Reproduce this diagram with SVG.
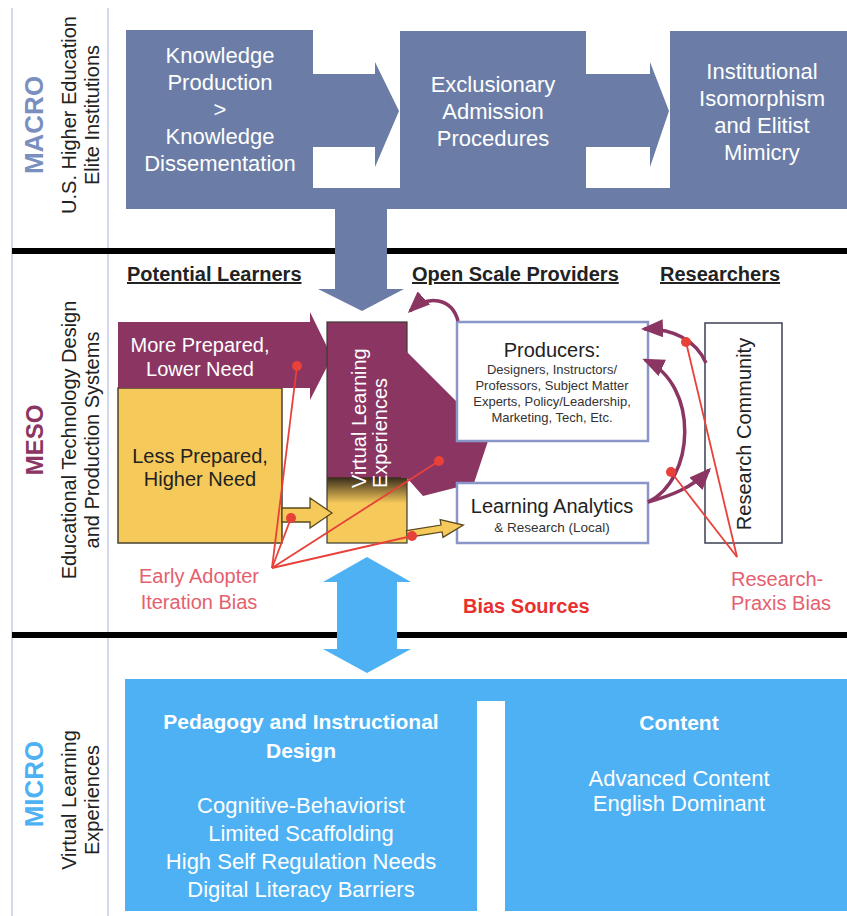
<svg xmlns="http://www.w3.org/2000/svg" width="847" height="916" viewBox="0 0 847 916">
<defs>
  <linearGradient id="vleGrad" x1="0" y1="0" x2="0" y2="1">
    <stop offset="0" stop-color="#8b3563"/>
    <stop offset="0.70" stop-color="#8b3563"/>
    <stop offset="0.705" stop-color="#3a2e1c"/>
    <stop offset="0.82" stop-color="#f6c95b"/>
    <stop offset="1" stop-color="#f6c95b"/>
  </linearGradient>
  <marker id="pArrow" markerUnits="userSpaceOnUse" markerWidth="22" markerHeight="18" viewBox="0 0 22 18" refX="19" refY="9" orient="auto">
    <path d="M0,0 L22,9 L0,18 z" fill="#8b3563"/>
  </marker>
</defs>
<style>
  text { font-family: "Liberation Sans", Arial, Helvetica, sans-serif; }
  .w { fill: #ffffff; }
  .k { fill: #222222; }
  .mac { font-size: 22px; fill: #ffffff; text-anchor: middle; }
  .lvl { font-size: 26px; font-weight: bold; text-anchor: middle; }
  .sub { font-size: 20px; fill: #222222; text-anchor: middle; }
  .hdr { font-size: 20px; font-weight: bold; fill: #222222; text-decoration: underline; }
  .mid { text-anchor: middle; }
  .bias { font-size: 20px; fill: #e5606e; }
  .pbox { fill: #ffffff; stroke: #8a96c8; stroke-width: 2.5; }
  .redl { stroke: #e8413a; stroke-width: 1.8; fill: none; }
  .dot { fill: #e8413a; }
  .parc { stroke: #8b3563; stroke-width: 3.5; fill: none; marker-end: url(#pArrow); }
  .yel { fill: #f6c95b; stroke: #5a4a20; stroke-width: 1.3; }
  .blue { fill: #4db1f3; }
  .mic { font-size: 22px; fill: #ffffff; text-anchor: middle; }
  .micb { font-size: 21px; font-weight: bold; fill: #ffffff; text-anchor: middle; }
</style>

<rect x="0" y="0" width="847" height="916" fill="#ffffff"/>

<!-- frame lines -->
<g id="frame">
  <line x1="12" y1="8" x2="12" y2="916" stroke="#c5cbe8" stroke-width="1.5"/>
  <line x1="108" y1="8" x2="108" y2="916" stroke="#c5cbe8" stroke-width="1.5"/>
  <line x1="12" y1="251" x2="847" y2="251" stroke="#000000" stroke-width="6"/>
  <line x1="12" y1="635" x2="847" y2="635" stroke="#000000" stroke-width="6"/>
</g>

<!-- level labels -->
<g id="label-macro">
  <text class="lvl" fill="#7b8fbf" transform="translate(43,125) rotate(-90)">MACRO</text>
  <text class="sub" transform="translate(76,115) rotate(-90)">U.S. Higher Education</text>
  <text class="sub" transform="translate(99,115) rotate(-90)">Elite Institutions</text>
</g>
<g id="label-meso">
  <text class="lvl" fill="#8b3563" style="font-size:24px" transform="translate(43,440) rotate(-90)">MESO</text>
  <text class="sub" transform="translate(76,440) rotate(-90)">Educational Technology Design</text>
  <text class="sub" transform="translate(99,440) rotate(-90)">and Production Systems</text>
</g>
<g id="label-micro">
  <text class="lvl" fill="#4db1f3" transform="translate(43,784) rotate(-90)">MICRO</text>
  <text class="sub" transform="translate(76,800) rotate(-90)">Virtual Learning</text>
  <text class="sub" transform="translate(99,800) rotate(-90)">Experiences</text>
</g>

<!-- macro nodes -->
<g id="knowledge-production">
  <rect x="126" y="30" width="187" height="179" fill="#6b7da6"/>
  <text class="mac" x="220" y="63">Knowledge</text>
  <text class="mac" x="220" y="90">Production</text>
  <text class="mac" x="220" y="117">&gt;</text>
  <text class="mac" x="220" y="144">Knowledge</text>
  <text class="mac" x="220" y="171">Dissementation</text>
</g>
<g id="exclusionary-admission">
  <rect x="400" y="31" width="186" height="178" fill="#6b7da6"/>
  <text class="mac" x="493" y="92">Exclusionary</text>
  <text class="mac" x="493" y="119">Admission</text>
  <text class="mac" x="493" y="146">Procedures</text>
</g>
<g id="institutional-isomorphism">
  <rect x="670" y="31" width="177" height="178" fill="#6b7da6"/>
  <text class="mac" x="762" y="79">Institutional</text>
  <text class="mac" x="762" y="106">Isomorphism</text>
  <text class="mac" x="762" y="133">and Elitist</text>
  <text class="mac" x="762" y="160">Mimicry</text>
</g>

<!-- meso headers -->
<g id="headers">
  <text class="hdr" x="127" y="281">Potential Learners</text>
  <text class="hdr" x="412" y="281">Open Scale Providers</text>
  <text class="hdr" x="660" y="281">Researchers</text>
</g>

<!-- potential learners -->
<g id="less-prepared">
  <rect x="118" y="388" width="164" height="155" fill="#f6c95b" stroke="#4a4030" stroke-width="1.5"/>
  <text class="k mid" x="200" y="463" font-size="20">Less Prepared,</text>
  <text class="k mid" x="200" y="486" font-size="20">Higher Need</text>
</g>
<g id="more-prepared">
  <polygon points="118,322 310,322 310,312 332,357 310,400 310,388 118,388" fill="#8b3563"/>
  <text class="w mid" x="200" y="352" font-size="20">More Prepared,</text>
  <text class="w mid" x="200" y="376" font-size="20">Lower Need</text>
</g>

<!-- virtual learning experiences -->
<g id="virtual-learning-experiences">
  <rect x="327" y="322" width="80" height="221" fill="url(#vleGrad)" stroke="#3d3a30" stroke-width="1.2"/>
  <polygon points="401,352 407,352 490,435 474,483 423,496 407,478 401,478" fill="#8b3563"/>
  <text class="w" font-size="20" transform="translate(366,488) rotate(-90)">Virtual Learning</text>
  <text class="w" font-size="20" transform="translate(387,488) rotate(-90)">Experiences</text>
</g>

<!-- providers -->
<g id="producers">
  <rect class="pbox" x="457" y="322" width="191" height="119"/>
  <text class="k mid" x="552" y="357" font-size="20">Producers:</text>
  <text class="mid" fill="#333" x="552" y="374" font-size="13">Designers, Instructors/</text>
  <text class="mid" fill="#333" x="552" y="390" font-size="13">Professors, Subject Matter</text>
  <text class="mid" fill="#333" x="552" y="406" font-size="13">Experts, Policy/Leadership,</text>
  <text class="mid" fill="#333" x="552" y="422" font-size="13">Marketing, Tech, Etc.</text>
</g>
<g id="learning-analytics">
  <rect class="pbox" x="457" y="483" width="191" height="60"/>
  <text class="k mid" x="552" y="513" font-size="20">Learning Analytics</text>
  <text class="mid" fill="#333" x="552" y="532" font-size="13.5">&amp; Research (Local)</text>
</g>

<!-- researchers -->
<g id="research-community">
  <rect x="705" y="323" width="77" height="220" fill="#ffffff" stroke="#3a4050" stroke-width="1.5"/>
  <text class="k mid" font-size="20" transform="translate(751,434) rotate(-90)">Research Community</text>
</g>

<!-- connectors -->
<g id="connectors">
  <!-- macro chain arrows and band -->
  <rect x="126" y="188" width="721" height="21" fill="#6b7da6"/>
  <polygon points="312,74 375,74 375,62 399,111 375,167 375,147 312,147" fill="#6b7da6"/>
  <polygon points="585,74 650,74 650,62 669,111 650,167 650,147 585,147" fill="#6b7da6"/>
  <polygon points="335,205 387,205 387,289 404,289 362,311 318,289 335,289" fill="#6b7da6"/>

  <!-- yellow arrows -->
  <polygon class="yel" points="282,508 310,508 310,498 332,513 310,528 310,522 282,522"/>
  <polygon class="yel" transform="translate(407,534) rotate(-9)" points="0,-3.5 35,-3.5 35,-9 57,0 35,9 35,3.5 0,3.5"/>

  <!-- purple arcs -->
  <path class="parc" d="M458,321 C452,298 428,294 410,311"/>
  <path class="parc" d="M706,363 C696,340 672,328 644,329"/>
  <path class="parc" d="M648,502 C695,480 700,385 645,360"/>
  <path class="parc" d="M648,502 C670,496 692,488 709,470"/>

  <!-- blue double arrow -->
  <polygon class="blue" points="367,557 411,582 397,582 397,649 411,649 367,673 323,649 337,649 337,582 323,582"/>
</g>

<!-- bias sources -->
<g id="early-adopter-bias">
  <line class="redl" x1="272" y1="568" x2="297" y2="366"/>
  <line class="redl" x1="272" y1="568" x2="291" y2="518"/>
  <line class="redl" x1="272" y1="568" x2="439" y2="461"/>
  <line class="redl" x1="272" y1="568" x2="412" y2="536"/>
  <circle class="dot" cx="297" cy="366" r="5"/>
  <circle class="dot" cx="291" cy="518" r="5"/>
  <circle class="dot" cx="439" cy="461" r="5"/>
  <circle class="dot" cx="412" cy="536" r="5"/>
  <text class="bias mid" x="199" y="583">Early Adopter</text>
  <text class="bias mid" x="199" y="609">Iteration Bias</text>
</g>
<g id="research-praxis-bias">
  <line class="redl" x1="737" y1="557" x2="686" y2="342"/>
  <line class="redl" x1="737" y1="557" x2="671" y2="472"/>
  <circle class="dot" cx="686" cy="342" r="5"/>
  <circle class="dot" cx="671" cy="472" r="5"/>
  <text class="bias" x="731" y="586">Research-</text>
  <text class="bias" x="731" y="610">Praxis Bias</text>
</g>
<g id="bias-sources-label">
  <text x="463" y="613" font-size="20" font-weight="bold" fill="#e8302e">Bias Sources</text>
</g>

<!-- micro -->
<g id="micro-band">
  <rect class="blue" x="125" y="679" width="722" height="22"/>
</g>
<g id="pedagogy">
  <rect class="blue" x="125" y="699" width="352" height="212"/>
  <text class="micb" x="301" y="729">Pedagogy and Instructional</text>
  <text class="micb" x="301" y="758">Design</text>
  <text class="mic" x="301" y="813">Cognitive-Behaviorist</text>
  <text class="mic" x="301" y="841">Limited Scaffolding</text>
  <text class="mic" x="301" y="869">High Self Regulation Needs</text>
  <text class="mic" x="301" y="897">Digital Literacy Barriers</text>
</g>
<g id="content">
  <rect class="blue" x="505" y="699" width="342" height="212"/>
  <text class="micb" x="679" y="730">Content</text>
  <text class="mic" x="679" y="786">Advanced Content</text>
  <text class="mic" x="679" y="811">English Dominant</text>
</g>
</svg>
